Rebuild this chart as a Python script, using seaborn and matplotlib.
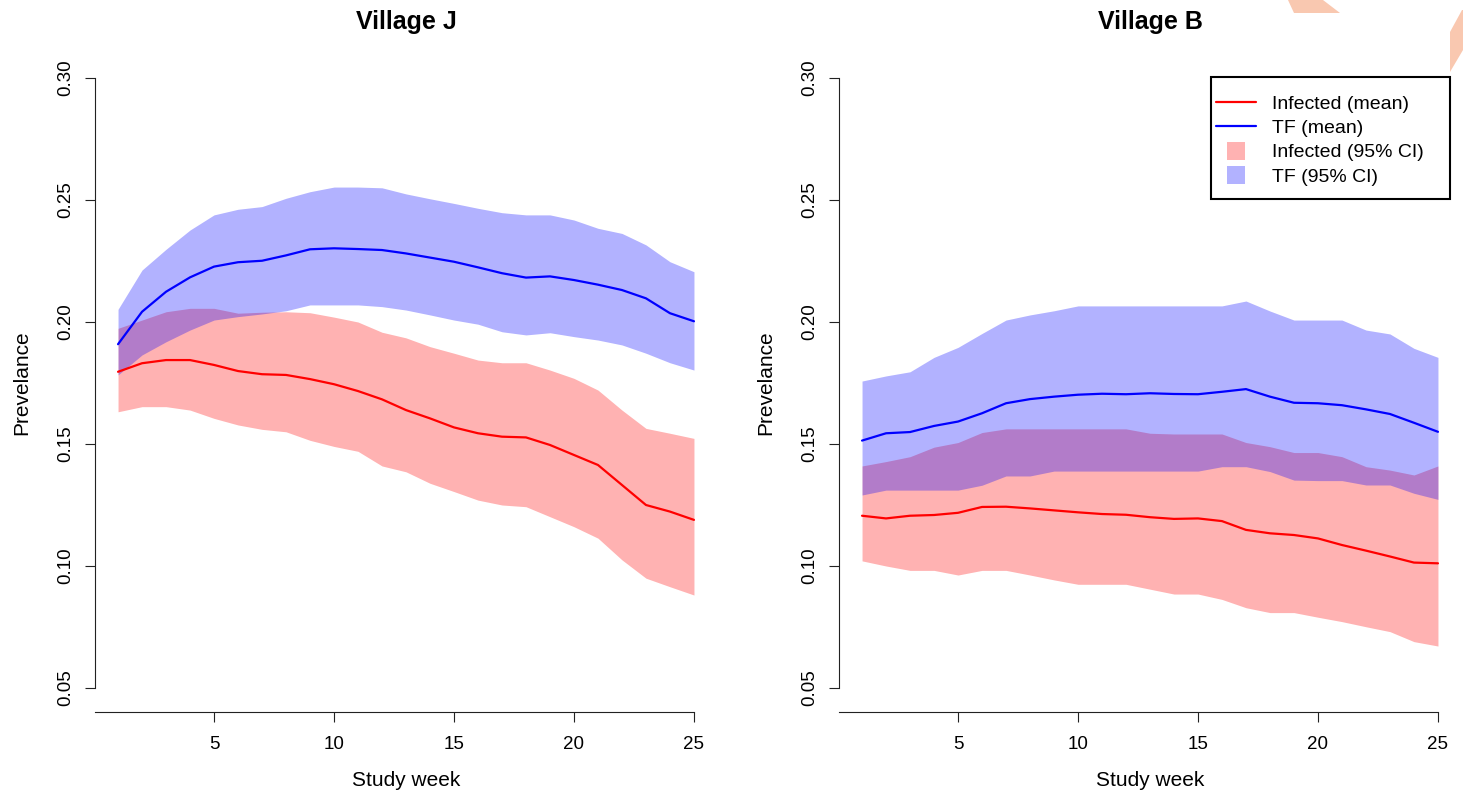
import numpy as np
import pandas as pd
import seaborn as sns
import matplotlib
matplotlib.use('Agg')
import matplotlib.pyplot as plt
from matplotlib.lines import Line2D
from matplotlib.patches import Polygon, Rectangle

# Study weeks
weeks = list(range(1, 26))

# Village J
j_inf_mean = [0.1796, 0.1831, 0.1844, 0.1844, 0.1824, 0.1799, 0.1786, 0.1783, 0.1766, 0.1745, 0.1717, 0.1683, 0.1639,
              0.1605, 0.1568, 0.1544, 0.1530, 0.1527, 0.1496, 0.1455, 0.1414, 0.1332, 0.1250, 0.1223, 0.1189]
j_inf_lo = [0.1632, 0.1653, 0.1653, 0.1639, 0.1605, 0.1578, 0.1560, 0.1550, 0.1515, 0.1490, 0.1470, 0.1410, 0.1386,
            0.1339, 0.1305, 0.1270, 0.1250, 0.1243, 0.1202, 0.1161, 0.1114, 0.1025, 0.0950, 0.0915, 0.0881]
j_inf_hi = [0.1974, 0.2008, 0.2042, 0.2056, 0.2056, 0.2036, 0.2040, 0.2042, 0.2038, 0.2020, 0.2000, 0.1958, 0.1935,
            0.1899, 0.1872, 0.1844, 0.1833, 0.1833, 0.1803, 0.1769, 0.1721, 0.1639, 0.1564, 0.1544, 0.1523]
j_tf_mean = [0.1909, 0.2042, 0.2124, 0.2183, 0.2227, 0.2245, 0.2251, 0.2273, 0.2298, 0.2302, 0.2299, 0.2295, 0.2281,
             0.2264, 0.2247, 0.2224, 0.2200, 0.2182, 0.2187, 0.2172, 0.2153, 0.2131, 0.2097, 0.2036, 0.2003]
j_tf_lo = [0.1783, 0.1865, 0.1919, 0.1967, 0.2008, 0.2022, 0.2033, 0.2046, 0.2070, 0.2070, 0.2070, 0.2063, 0.2049,
           0.2029, 0.2008, 0.1991, 0.1960, 0.1947, 0.1956, 0.1940, 0.1926, 0.1906, 0.1872, 0.1833, 0.1803]
j_tf_hi = [0.2052, 0.2213, 0.2298, 0.2377, 0.2439, 0.2462, 0.2473, 0.2507, 0.2534, 0.2553, 0.2553, 0.2550, 0.2525,
           0.2505, 0.2486, 0.2466, 0.2448, 0.2439, 0.2439, 0.2418, 0.2384, 0.2363, 0.2316, 0.2247, 0.2206]

# Village B
b_inf_mean = [0.1206, 0.1195, 0.1206, 0.1209, 0.1218, 0.1242, 0.1243, 0.1236, 0.1228, 0.1220, 0.1213, 0.1210, 0.1200,
              0.1193, 0.1195, 0.1184, 0.1148, 0.1134, 0.1127, 0.1113, 0.1086, 0.1063, 0.1039, 0.1014, 0.1011]
b_inf_lo = [0.1021, 0.1000, 0.0982, 0.0982, 0.0963, 0.0982, 0.0982, 0.0963, 0.0943, 0.0925, 0.0925, 0.0925, 0.0905,
            0.0885, 0.0885, 0.0863, 0.0829, 0.0809, 0.0809, 0.0790, 0.0772, 0.0751, 0.0731, 0.0690, 0.0672]
b_inf_hi = [0.1410, 0.1428, 0.1448, 0.1487, 0.1506, 0.1547, 0.1562, 0.1562, 0.1562, 0.1562, 0.1562, 0.1562, 0.1544,
            0.1541, 0.1541, 0.1541, 0.1506, 0.1489, 0.1465, 0.1465, 0.1448, 0.1407, 0.1393, 0.1373, 0.1410]
b_tf_mean = [0.1514, 0.1544, 0.1549, 0.1574, 0.1592, 0.1626, 0.1667, 0.1684, 0.1694, 0.1702, 0.1706, 0.1704, 0.1708,
             0.1705, 0.1704, 0.1714, 0.1725, 0.1694, 0.1669, 0.1667, 0.1659, 0.1642, 0.1623, 0.1587, 0.1550]
b_tf_lo = [0.1291, 0.1311, 0.1311, 0.1311, 0.1311, 0.1331, 0.1369, 0.1369, 0.1389, 0.1389, 0.1389, 0.1389, 0.1389,
           0.1389, 0.1389, 0.1407, 0.1407, 0.1387, 0.1352, 0.1350, 0.1350, 0.1332, 0.1332, 0.1298, 0.1273]
b_tf_hi = [0.1758, 0.1779, 0.1796, 0.1855, 0.1896, 0.1953, 0.2008, 0.2029, 0.2046, 0.2066, 0.2066, 0.2066, 0.2066,
           0.2066, 0.2066, 0.2066, 0.2086, 0.2045, 0.2008, 0.2008, 0.2008, 0.1967, 0.1951, 0.1892, 0.1855]

titles = ['Village J', 'Village B']
x_ticks = [5, 10, 15, 20, 25]
y_ticks = [0.05, 0.10, 0.15, 0.20, 0.25, 0.30]

sns.set_style('ticks')
plt.rcParams['font.family'] = ['Liberation Sans', 'DejaVu Sans']
plt.rcParams['text.color'] = 'black'
plt.rcParams['xtick.color'] = 'black'
plt.rcParams['ytick.color'] = 'black'

red_band = (1, 0, 0, 0.3)
blue_band = (0, 0, 1, 0.3)

W, H = 1463, 795
fig = plt.figure(figsize=(W / 100, H / 100), dpi=100)

# axes boxes in pixels: left, right, top, bottom
boxes = [(95, 717, 53.6, 712.4), (839, 1461, 53.6, 712.4)]
panels = [
    (j_inf_mean, j_inf_lo, j_inf_hi, j_tf_mean, j_tf_lo, j_tf_hi),
    (b_inf_mean, b_inf_lo, b_inf_hi, b_tf_mean, b_tf_lo, b_tf_hi),
]

axes = []
for (l, r, t, b), title, data in zip(boxes, titles, panels):
    ax = fig.add_axes([l / W, 1 - b / H, (r - l) / W, (b - t) / H])
    inf_mean, inf_lo, inf_hi, tf_mean, tf_lo, tf_hi = data
    df = pd.DataFrame({'week': weeks, 'inf': inf_mean, 'tf': tf_mean})

    ax.fill_between(weeks, inf_lo, inf_hi, color=red_band, lw=0, zorder=1)
    ax.fill_between(weeks, tf_lo, tf_hi, color=blue_band, lw=0, zorder=1)
    sns.lineplot(data=df, x='week', y='inf', color='red', lw=1.6, ax=ax, zorder=3)
    sns.lineplot(data=df, x='week', y='tf', color='blue', lw=1.6, ax=ax, zorder=3)

    ax.set_xlim(0.04, 25.96)
    ax.set_ylim(0.04, 0.31)
    ax.set_xticks(x_ticks)
    ax.set_yticks(y_ticks)
    ax.set_yticklabels(['%.2f' % v for v in y_ticks], rotation=90, va='center')
    ax.tick_params(axis='both', labelsize=13.5, length=7, width=0.8, color='#222222', labelcolor='black')
    ax.tick_params(axis='x', pad=10)
    ax.tick_params(axis='y', pad=8)
    ax.set_xlabel('')
    ax.set_ylabel('')
    for s in ['top', 'right']:
        ax.spines[s].set_visible(False)
    for s in ['left', 'bottom']:
        ax.spines[s].set_linewidth(0.8)
        ax.spines[s].set_color('#222222')
    ax.spines['left'].set_bounds(0.05, 0.30)
    ax.spines['bottom'].set_bounds(0.04, 25)

    ax.text(0.5, 1 + (t - 22) / (b - t), title, transform=ax.transAxes,
            ha='center', va='center', fontsize=18, fontweight='bold')
    fig.text((l - 73) / W, 1 - 383 / H, 'Prevelance', rotation=90,
             ha='center', va='center', fontsize=15)
    fig.text((l + r) / 2 / W, 1 - 780 / H, 'Study week', ha='center', va='center', fontsize=15)
    axes.append(ax)

# legend in the right panel, box drawn separately like R's legend
handles = [
    Line2D([], [], color='red', lw=1.6),
    Line2D([], [], color='blue', lw=1.6),
    Line2D([], [], ls='none', marker='s', markersize=13, markerfacecolor=red_band, markeredgewidth=0),
    Line2D([], [], ls='none', marker='s', markersize=13, markerfacecolor=blue_band, markeredgewidth=0),
]
labels = ['Infected (mean)', 'TF (mean)', 'Infected (95% CI)', 'TF (95% CI)']
leg = axes[1].legend(handles, labels, loc='upper left', bbox_to_anchor=(1216 / W, 1 - 95 / H),
                     bbox_transform=fig.transFigure, fontsize=14, frameon=False, borderpad=0,
                     labelspacing=0.35, handlelength=2.05, handletextpad=0.85, borderaxespad=0)
fig.add_artist(Rectangle((1211 / W, 1 - 199 / H), (1450 - 1211) / W, (199 - 77) / H,
                         transform=fig.transFigure, facecolor='none', edgecolor='black', lw=1.5))

# orange decoration in the top right corner
orange = '#F9C8B0'
shape1 = [(1288, 0), (1323, 0), (1340, 13), (1294, 13)]
shape2 = [(1450, 32), (1462, 10), (1463, 10), (1463, 50), (1450, 72)]
for pts in [shape1, shape2]:
    fig.add_artist(Polygon([(x / W, 1 - y / H) for x, y in pts], closed=True,
                           transform=fig.transFigure, facecolor=orange, edgecolor='none'))

fig.savefig('out.png', dpi=100)
